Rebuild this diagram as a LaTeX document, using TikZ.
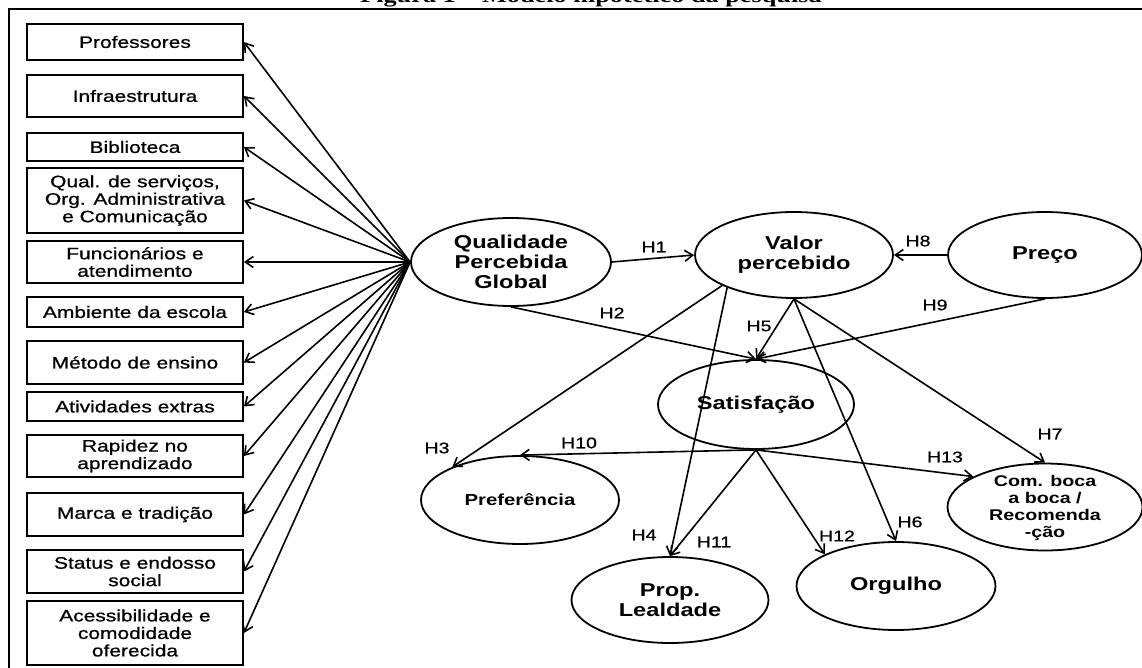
\documentclass[tikz,border=0pt]{standalone}
\usepackage{fontspec}
\usetikzlibrary{shapes.geometric,arrows.meta}
\newfontfamily\wsans{Liberation Sans}[FakeStretch=1.27]
\newfontfamily\rsans{Liberation Sans}[FakeStretch=1.27, FakeBold=0.8]
\newfontfamily\wserif{Liberation Serif}[FakeStretch=1.27]
\begin{document}
\begin{tikzpicture}[x=1pt,y=-1pt,
  box/.style={draw, line width=1.8pt, minimum width=216pt, inner sep=0pt, align=center,
    font=\rsans\fontsize{16.5}{17.5}\selectfont},
  ell/.style={draw, ellipse, line width=1.8pt, inner sep=0pt, align=center,
    font=\wsans\bfseries\fontsize{18.6}{20}\selectfont},
  lab/.style={inner sep=0pt, align=center, font=\wsans\bfseries\fontsize{15.5}{17}\selectfont},
  arr/.style={-{Straight Barb[length=8pt,width=11pt]}, line width=1.6pt},
  hl/.style={inner sep=0pt, font=\rsans\fontsize{15.4}{16}\selectfont}]
\useasboundingbox (0,0) rectangle (1142,668);
% title (cut by the page edge, as in the reference)
\node[anchor=base, inner sep=0pt, font=\wserif\bfseries\fontsize{20.7}{22}\selectfont] (title) at (591,2.5) {Figura 1 – Modelo hipotético da pesquisa};
% frame
\draw[line width=2.6pt] (9,9) rectangle (1150,680);
% boxes
\node[box, minimum height=36pt] (b1) at (135,42) {Professores};
\node[box, minimum height=42pt] (b2) at (135,96) {Infraestrutura};
\node[box, minimum height=28pt] (b3) at (135,147) {Biblioteca};
\node[box, minimum height=65pt] (b4) at (135,200.5) {Qual. de serviços,\\Org. Administrativa\\e Comunicação};
\node[box, minimum height=42pt] (b5) at (135,262) {Funcionários e\\atendimento};
\node[box, minimum height=30pt] (b6) at (135,312) {Ambiente da escola};
\node[box, minimum height=43pt] (b7) at (135,362.5) {Método de ensino};
\node[box, minimum height=29pt] (b8) at (135,406.5) {Atividades extras};
\node[box, minimum height=42pt] (b9) at (135,456) {Rapidez no\\aprendizado};
\node[box, minimum height=43pt] (b10) at (135,514.5) {Marca e tradição};
\node[box, minimum height=43pt] (b11) at (135,571.5) {Status e endosso\\social};
\node[box, minimum height=64pt] (b12) at (135,633) {Acessibilidade e\\comodidade\\oferecida};
% ellipses
\node[ell, minimum width=200pt, minimum height=88pt] (qpg) at (511,262) {Qualidade\\Percebida\\Global};
\node[ell, minimum width=198pt, minimum height=86pt] (vp) at (794,255) {Valor\\percebido};
\node[ell, minimum width=194pt, minimum height=86pt] (pre) at (1045,255) {Preço};
\node[ell, minimum width=196pt, minimum height=89pt] (sat) at (756,404.5) {Satisfação};
\node[ell, minimum width=198pt, minimum height=88pt, font=\wsans\bfseries\fontsize{16}{18}\selectfont] (pref) at (520,500) {Preferência};
\node[ell, minimum width=197pt, minimum height=86pt] (pl) at (670,600) {Prop.\\Lealdade};
\node[ell, minimum width=199pt, minimum height=88pt] (org) at (896,586) {Orgulho};
\node[ell, minimum width=195pt, minimum height=87pt] (cbb) at (1045,507) {};
\node[lab] (cbbt) at (1045,508) {Com. boca\\a boca /\\Recomenda\\-ção};
% left arrows
\foreach \b in {b1,b2,b3,b4,b5,b6,b7,b8,b9,b10,b11,b12}
  \draw[arr] (qpg.west) -- (\b.east);
% hypothesis arrows
\draw[arr] (qpg.east) -- (vp.west);
\draw[arr] (qpg.south) -- (sat.north);
\draw[arr] (vp.203) -- (pref.154);
\draw[arr] (vp.206) -- (pl.north);
\draw[arr] (vp.south) -- (sat.north);
\draw[arr] (vp.south) -- (org.north);
\draw[arr] (vp.south) -- (cbb.north);
\draw[arr] (pre.west) -- (vp.east);
\draw[arr] (pre.south) -- (sat.north);
\draw[arr] (sat.south) -- (pref.north);
\draw[arr] (sat.south) -- (pl.north);
\draw[arr] (sat.south) -- (org.156);
\draw[arr] (sat.south) -- (cbb.157);
% labels
\node[hl] (h1) at (654,247) {H1};
\node[hl] (h2) at (612,313) {H2};
\node[hl] (h3) at (437,448) {H3};
\node[hl] (h4) at (644,535) {H4};
\node[hl] (h5) at (759,326) {H5};
\node[hl] (h6) at (910,522) {H6};
\node[hl] (h7) at (1050,434) {H7};
\node[hl] (h8) at (918,241) {H8};
\node[hl] (h9) at (935,305) {H9};
\node[hl] (h10) at (579,443) {H10};
\node[hl] (h11) at (714,542) {H11};
\node[hl] (h12) at (837,536) {H12};
\node[hl] (h13) at (945,457) {H13};
\end{tikzpicture}
\end{document}
